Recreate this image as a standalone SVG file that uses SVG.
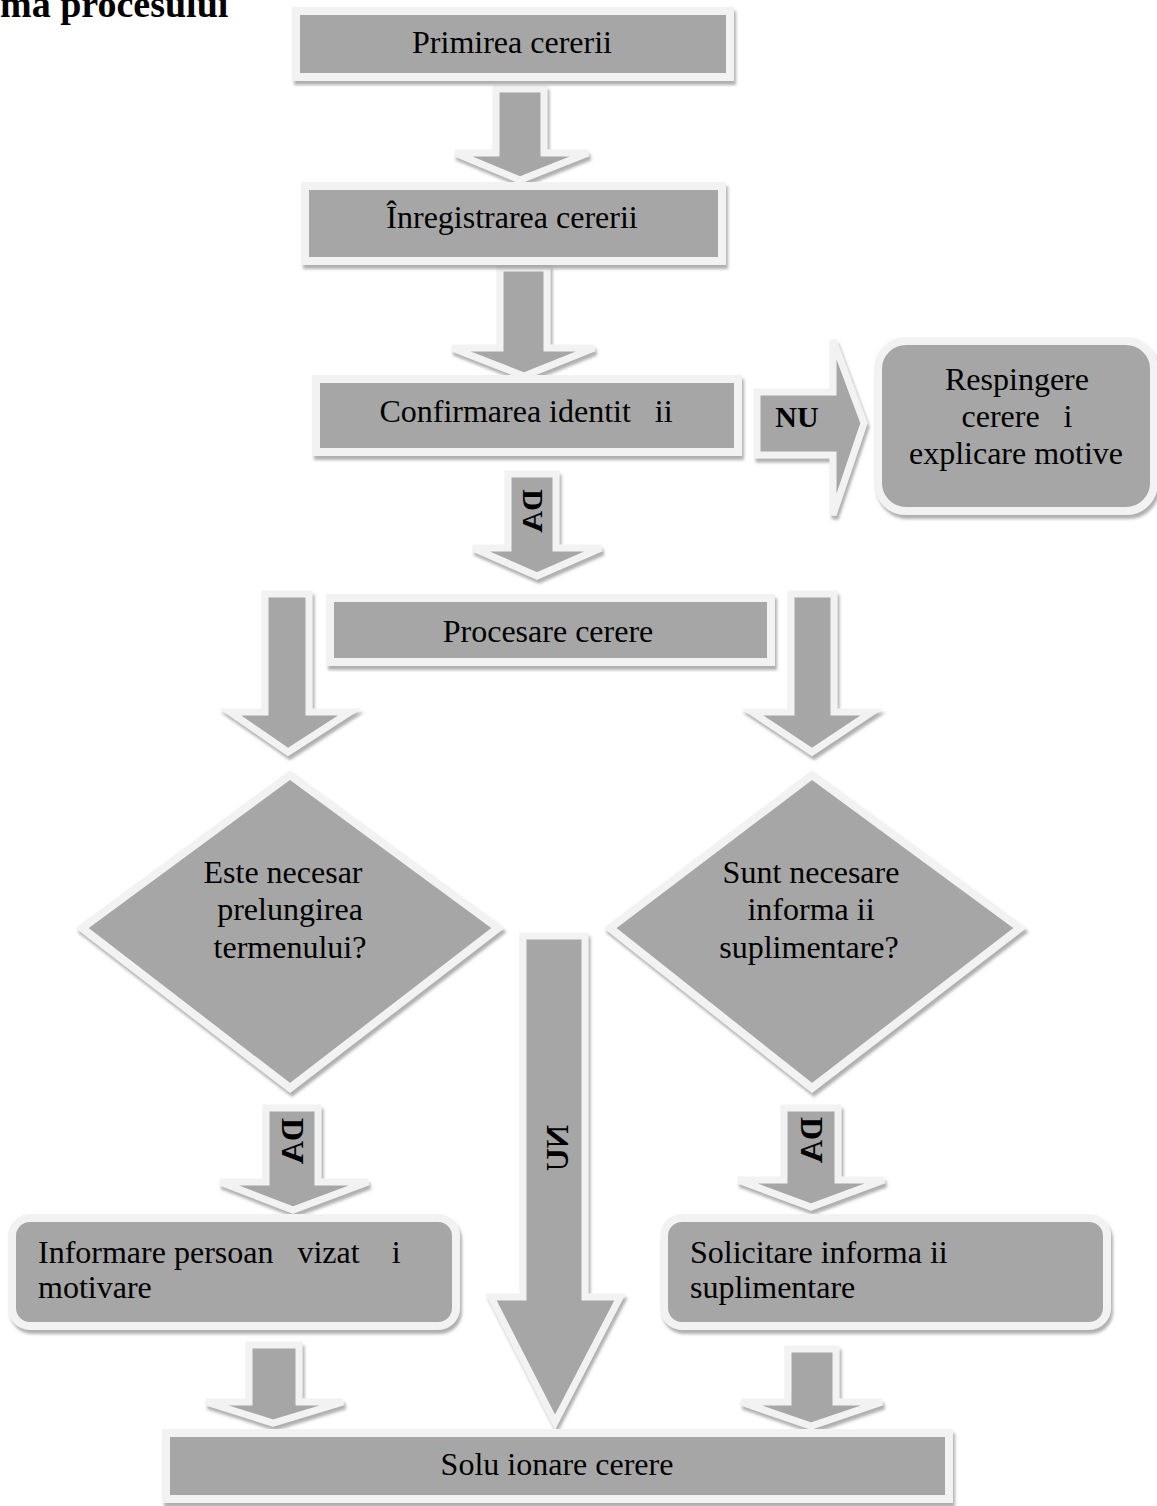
<svg xmlns="http://www.w3.org/2000/svg" width="1157" height="1506" viewBox="0 0 1157 1506">
<defs>
<filter id="ds" x="-10%" y="-10%" width="125%" height="125%">
<feDropShadow dx="2" dy="4" stdDeviation="1.5" flood-color="#7a7a7a" flood-opacity="0.6"/>
</filter>
<style>
.sh{fill:#a6a6a6;stroke:#f2f2f2;stroke-width:8;stroke-linejoin:miter;filter:url(#ds)}
.ar{fill:#a6a6a6;stroke:#f2f2f2;stroke-width:7;stroke-linejoin:miter;filter:url(#ds)}
.t{font-family:"Liberation Serif","Times New Roman",serif;font-size:32px;fill:#000}
.c{text-anchor:middle}
.b{font-family:"Liberation Serif","Times New Roman",serif;font-weight:bold;fill:#000;text-anchor:middle}
</style>
</defs>
<rect width="1157" height="1506" fill="#ffffff"/>
<g id="title"><text x="0" y="17" font-family="Liberation Serif, Times New Roman, serif" font-weight="bold" font-size="38">ma procesului</text></g>

<g id="connectors">
<polygon class="ar" points="496,89 544,89 544,153 588,153 520,180 455,153 496,153"/>
<polygon class="ar" points="500,268 547,268 547,348 594,348 524,376 452,348 500,348"/>
<polygon class="ar" points="757,392 833,392 833,340 864,423 833,515 833,455 757,455"/>
<text class="b" x="797" y="427" font-size="30">NU</text>
<polygon class="ar" points="508,474 556,474 556,548 601,548 537,576 473,548 508,548"/>
<text class="b" font-size="30" transform="matrix(0 1 1 0 542 511)">DA</text>
<polygon class="ar" points="265,594 309,594 309,712 350,712 288,752 230,712 265,712"/>
<polygon class="ar" points="791,594 834,594 834,712 872,712 812,752 752,712 791,712"/>
<polygon class="ar" points="266,1108 318,1108 318,1182 368,1182 293,1210 220,1182 266,1182"/>
<text class="b" font-size="32" transform="matrix(0 1 1 0 303 1141)">DA</text>
<polygon class="ar" points="523,936 585,936 585,1297 620,1297 555,1422 491,1297 523,1297"/>
<text class="b" font-size="32" transform="matrix(0 1 1 0 568 1148)">NU</text>
<polygon class="ar" points="784,1108 838,1108 838,1180 884,1180 811,1207 738,1180 784,1180"/>
<text class="b" font-size="32" transform="matrix(0 1 1 0 822 1140)">DA</text>
<polygon class="ar" points="249,1345 299,1345 299,1402 343,1402 273,1423 206,1402 249,1402"/>
<polygon class="ar" points="788,1349 836,1349 836,1402 882,1402 811,1426 741,1402 788,1402"/>
</g>

<g id="n-primirea"><rect class="sh" x="296" y="11" width="434" height="66"/><text class="t c" x="512" y="53">Primirea cererii</text></g>
<g id="n-inregistrarea"><rect class="sh" x="305" y="186" width="417" height="75"/><text class="t c" x="512" y="228">Înregistrarea cererii</text></g>
<g id="n-confirmarea"><rect class="sh" x="316" y="379" width="422" height="73"/><text class="t c" x="526" y="422" xml:space="preserve">Confirmarea identit   ii</text></g>
<g id="n-respingere"><rect class="sh" x="878" y="341" width="276" height="170" rx="28"/>
<text class="t c" x="1017" y="390">Respingere</text>
<text class="t c" x="1017" y="427" xml:space="preserve">cerere   i</text>
<text class="t c" x="1016" y="464">explicare motive</text></g>
<g id="n-procesare"><rect class="sh" x="330" y="598" width="441" height="64"/><text class="t c" x="548" y="642">Procesare cerere</text></g>
<g id="n-prelungire"><polygon class="sh" points="290,775 498,928 290,1088 82,928"/>
<text class="t c" x="283" y="883">Este necesar</text>
<text class="t c" x="290" y="920">prelungirea</text>
<text class="t c" x="290" y="958">termenului?</text></g>
<g id="n-informatii"><polygon class="sh" points="812,775 1020,928 812,1088 610,928"/>
<text class="t c" x="811" y="883">Sunt necesare</text>
<text class="t c" x="811" y="920">informa ii</text>
<text class="t c" x="809" y="958">suplimentare?</text></g>
<g id="n-informare"><rect class="sh" x="12" y="1218" width="444" height="108" rx="18"/>
<text class="t" x="38" y="1263" xml:space="preserve">Informare persoan   vizat    i</text>
<text class="t" x="38" y="1298">motivare</text></g>
<g id="n-solicitare"><rect class="sh" x="664" y="1218" width="443" height="108" rx="18"/>
<text class="t" x="690" y="1263">Solicitare informa ii</text>
<text class="t" x="690" y="1298">suplimentare</text></g>
<g id="n-solutionare"><rect class="sh" x="166" y="1433" width="783" height="66"/><text class="t c" x="557" y="1475">Solu ionare cerere</text></g>
</svg>
